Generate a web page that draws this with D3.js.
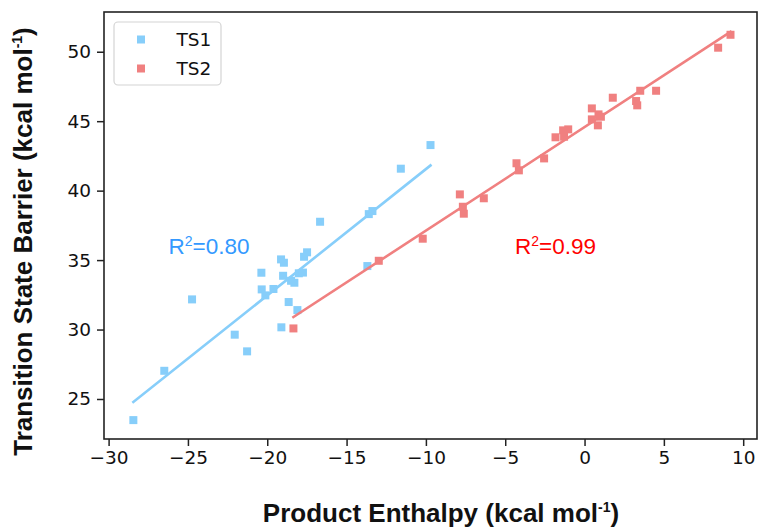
<!DOCTYPE html>
<html>
<head>
<meta charset="utf-8">
<script src="https://cdn.jsdelivr.net/npm/d3@7"></script>
<style>
  html, body { margin: 0; padding: 0; background: #fff; }
  svg { display: block; }
</style>
</head>
<body>
<svg id="chart" width="759" height="529"></svg>
<script>
// Product enthalpy (x) vs transition state barrier (y), kcal/mol
const ts1X = [-28.44, -26.49, -24.74, -22.05, -21.27, -20.37, -20.35, -20.12, -19.61, -19.13,
              -18.95, -19.0, -18.65, -19.11, -18.5, -18.29, -18.1, -18.01, -17.75, -17.68,
              -17.49, -16.67, -13.69, -13.6, -13.37, -11.58, -9.71];
const ts1Y = [23.48, 27.03, 32.17, 29.63, 28.43, 34.09, 32.89, 32.46, 32.92, 35.05,
              34.81, 33.87, 31.98, 30.16, 33.51, 33.37, 31.4, 34.05, 34.1, 35.24,
              35.56, 37.76, 34.57, 38.31, 38.53, 41.58, 43.28];

const ts2X = [-18.35, -12.97, -10.2, -7.86, -7.67, -7.61, -6.35, -4.29, -4.14, -2.55,
              -1.83, -1.35, -1.03, -1.29, 0.46, 0.46, 0.88, 1.03, 0.84, 1.78,
              3.25, 3.32, 3.51, 4.51, 8.42, 9.2];
const ts2Y = [30.08, 34.95, 36.54, 39.73, 38.84, 38.34, 39.45, 41.97, 41.46, 42.32,
              43.84, 44.34, 44.41, 43.88, 45.92, 45.13, 45.49, 45.32, 44.7, 46.69,
              46.45, 46.14, 47.19, 47.19, 50.29, 51.22];

const seriesNames = ["TS1", "TS2"];
const r2Labels = ["0.80", "0.99"];
const xTicks = [-30, -25, -20, -15, -10, -5, 0, 5, 10];
const yTicks = [25, 30, 35, 40, 45, 50];

const colors = { TS1: "#87CEFA", TS2: "#F08080" };
const r2Colors = { TS1: "#3399FF", TS2: "#FF0000" };

const svg = d3.select("#chart");
const plot = { left: 104, right: 757, top: 12, bottom: 439 };

const x = d3.scaleLinear().domain([-30.29, 10.87]).range([plot.left, plot.right]);
const y = d3.scaleLinear().domain([22.12, 52.86]).range([plot.bottom, plot.top]);

// least-squares fit
function fit(xs, ys) {
  const mx = d3.mean(xs), my = d3.mean(ys);
  let sxy = 0, sxx = 0;
  xs.forEach((v, i) => { sxy += (v - mx) * (ys[i] - my); sxx += (v - mx) * (v - mx); });
  const slope = sxy / sxx;
  return { slope, intercept: my - slope * mx, x0: d3.min(xs), x1: d3.max(xs) };
}

const series = [
  { name: "TS1", xs: ts1X, ys: ts1Y },
  { name: "TS2", xs: ts2X, ys: ts2Y }
];

// axes
const tickFont = "'DejaVu Sans', sans-serif";
const xAxis = d3.axisBottom(x).tickValues(xTicks).tickSizeOuter(0).tickSize(7).tickPadding(5);
const yAxis = d3.axisLeft(y).tickValues(yTicks).tickSizeOuter(0).tickSize(7).tickPadding(6);

const gx = svg.append("g").attr("transform", `translate(0,${plot.bottom})`).call(xAxis);
const gy = svg.append("g").attr("transform", `translate(${plot.left},0)`).call(yAxis);
[gx, gy].forEach(g => {
  g.select(".domain").remove();
  g.selectAll(".tick line").attr("stroke", "#222").attr("stroke-width", 1.5);
  g.selectAll(".tick text").attr("fill", "#111").style("font-family", tickFont).style("font-size", "18.5px");
});

// scatter points
const sq = 8;
series.forEach(s => {
  svg.append("g").selectAll("rect")
    .data(s.xs.map((v, i) => [v, s.ys[i]]))
    .join("rect")
    .attr("x", d => x(d[0]) - sq / 2)
    .attr("y", d => y(d[1]) - sq / 2)
    .attr("width", sq).attr("height", sq)
    .attr("fill", colors[s.name]);
});

// regression lines
series.forEach(s => {
  const f = fit(s.xs, s.ys);
  svg.append("line")
    .attr("x1", x(f.x0)).attr("y1", y(f.intercept + f.slope * f.x0))
    .attr("x2", x(f.x1)).attr("y2", y(f.intercept + f.slope * f.x1))
    .attr("stroke", colors[s.name]).attr("stroke-width", 2.6).attr("stroke-linecap", "square");
});

// frame
svg.append("rect")
  .attr("x", plot.left).attr("y", plot.top)
  .attr("width", plot.right - plot.left).attr("height", plot.bottom - plot.top)
  .attr("fill", "none").attr("stroke", "#222").attr("stroke-width", 1.6);

// R² annotations
const r2Pos = [[-26.22, 35.44], [-4.38, 35.44]];
series.forEach((s, i) => {
  const t = svg.append("text")
    .attr("x", x(r2Pos[i][0])).attr("y", y(r2Pos[i][1]))
    .attr("fill", r2Colors[s.name])
    .style("font-family", "'Liberation Sans', Arial, sans-serif")
    .style("font-size", "22.5px");
  t.append("tspan").text("R");
  t.append("tspan").attr("dy", -8).style("font-size", "14px").text("2");
  t.append("tspan").attr("dy", 8).text("=" + r2Labels[i]);
});

// legend
const lg = svg.append("g");
lg.append("rect").attr("x", 114).attr("y", 22).attr("width", 107).attr("height", 63)
  .attr("rx", 4).attr("fill", "#fff").attr("fill-opacity", 0.8)
  .attr("stroke", "#d4d4d4").attr("stroke-width", 1.2);
seriesNames.forEach((n, i) => {
  const cy = 39.5 + i * 29;
  lg.append("rect").attr("x", 137).attr("y", cy - 4).attr("width", 8).attr("height", 8).attr("fill", colors[n]);
  lg.append("text").attr("x", 176.5).attr("y", cy + 6.5).text(n)
    .attr("fill", "#111").style("font-family", tickFont).style("font-size", "18.5px");
});

// axis titles
const titleFont = "'Liberation Sans', Arial, sans-serif";
const xt = svg.append("text")
  .attr("x", 441).attr("y", 521.5)
  .attr("text-anchor", "middle").attr("fill", "#111")
  .style("font-family", titleFont).style("font-weight", "bold").style("font-size", "26px");
xt.append("tspan").text("Product Enthalpy (kcal mol");
xt.append("tspan").attr("dy", -10).style("font-size", "14px").text("-1");
xt.append("tspan").attr("dy", 10).text(")");

const yt = svg.append("text")
  .attr("transform", `translate(32,241.5) rotate(-90)`)
  .attr("text-anchor", "middle").attr("fill", "#111")
  .style("font-family", titleFont).style("font-weight", "bold").style("font-size", "26px");
yt.append("tspan").text("Transition State Barrier (kcal mol");
yt.append("tspan").attr("dy", -10).style("font-size", "14px").text("-1");
yt.append("tspan").attr("dy", 10).text(")");
</script>
</body>
</html>
